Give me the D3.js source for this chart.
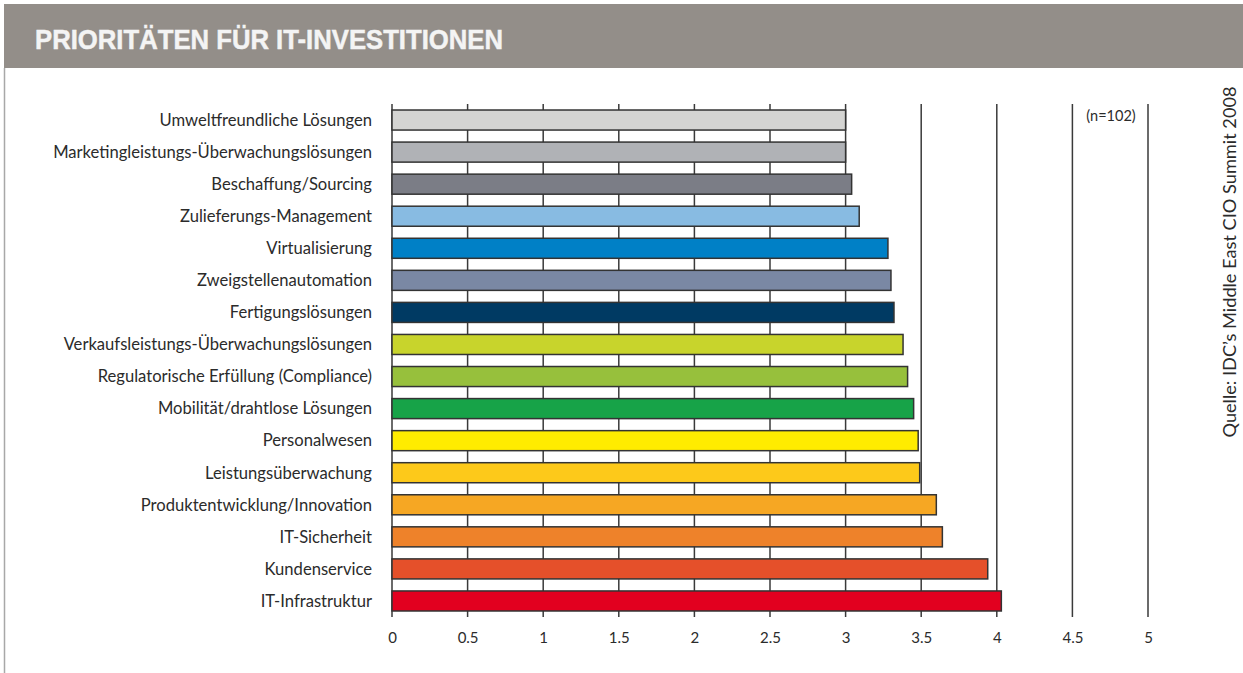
<!DOCTYPE html>
<html>
<head>
<meta charset="utf-8">
<script src="https://cdn.jsdelivr.net/npm/d3@7"></script>
<style>
html,body{margin:0;padding:0;background:#fff;}
svg{display:block;}
</style>
</head>
<body>
<svg id="chart" width="1243" height="673"></svg>
<script>
const categories = [
  "Umweltfreundliche Lösungen",
  "Marketingleistungs-Überwachungslösungen",
  "Beschaffung/Sourcing",
  "Zulieferungs-Management",
  "Virtualisierung",
  "Zweigstellenautomation",
  "Fertigungslösungen",
  "Verkaufsleistungs-Überwachungslösungen",
  "Regulatorische Erfüllung (Compliance)",
  "Mobilität/drahtlose Lösungen",
  "Personalwesen",
  "Leistungsüberwachung",
  "Produktentwicklung/Innovation",
  "IT-Sicherheit",
  "Kundenservice",
  "IT-Infrastruktur"
];
const values = [3.0, 3.0, 3.04, 3.09, 3.28, 3.30, 3.32, 3.38, 3.41, 3.45, 3.48, 3.49, 3.60, 3.64, 3.94, 4.03];
const barColors = ["#d4d4d2","#b0b2b6","#7b7d86","#88bbe2","#0080c6","#7a88a4","#003a63","#c8d42c",
                   "#97c03c","#17a348","#ffec00","#fdc91a","#f6a723","#ee822a","#e5502a","#e2001f"];
const tickValues = [0,0.5,1,1.5,2,2.5,3,3.5,4,4.5,5];
const tickLabels = ["0","0.5","1","1.5","2","2.5","3","3.5","4","4.5","5"];
const titleText = "PRIORITÄTEN FÜR IT-INVESTITIONEN";
const sampleNote = "(n=102)";
const sourceText = "Quelle: IDC’s Middle East CIO Summit 2008";

const svg = d3.select("#chart");

// header band
svg.append("rect").attr("x",4).attr("y",4).attr("width",1239).attr("height",64).attr("fill","#938e89");
svg.append("text").attr("x",35).attr("y",48.5)
  .attr("font-family","'Liberation Sans Narrow','Arial Narrow','Liberation Sans',sans-serif")
  .attr("font-weight","bold").attr("font-size",28).attr("fill","#f4f4f4")
  .attr("stroke","#f4f4f4").attr("stroke-width",0.5)
  .attr("textLength",468).attr("lengthAdjust","spacingAndGlyphs")
  .text(titleText);
// left frame line
svg.append("line").attr("x1",4.5).attr("x2",4.5).attr("y1",68).attr("y2",673)
  .attr("stroke","#a8a8a8").attr("stroke-width",1.5);

const x = d3.scaleLinear().domain([0,5]).range([392,1148]);
const y = d3.scaleBand().domain(categories).range([104,617]).paddingInner(0.375).paddingOuter(0.1875);

// gridlines
svg.append("g").selectAll("line").data(tickValues).join("line")
  .attr("x1",d=>x(d)).attr("x2",d=>x(d)).attr("y1",104).attr("y2",617)
  .attr("stroke","#3a3a3a").attr("stroke-width",1.5);

// bars
svg.append("g").selectAll("rect").data(categories).join("rect")
  .attr("x",x(0)).attr("y",d=>y(d))
  .attr("width",(d,i)=>x(values[i])-x(0))
  .attr("height",y.bandwidth())
  .attr("fill",(d,i)=>barColors[i])
  .attr("stroke","#333").attr("stroke-width",1.5);

// category labels
svg.append("g").selectAll("text").data(categories).join("text")
  .attr("x",372).attr("y",d=>y(d)+y.bandwidth()/2)
  .attr("dy","0.35em").attr("text-anchor","end")
  .attr("font-family","Lato,sans-serif").attr("font-size",16.6)
  .attr("fill","#2b2b2b").text(d=>d);

// x axis labels
const axis = d3.axisBottom(x).tickValues(tickValues).tickFormat((d,i)=>tickLabels[i]).tickSize(0).tickPadding(0);
const ag = svg.append("g").attr("transform","translate(0,632)").call(axis);
ag.select(".domain").remove();
ag.selectAll("text").attr("font-family","Lato,sans-serif").attr("font-size",15).attr("fill","#2b2b2b");

// sample note
svg.append("text").attr("x",1111).attr("y",121).attr("text-anchor","middle")
  .attr("font-family","Lato,sans-serif").attr("font-size",14.5).attr("fill","#2b2b2b")
  .text(sampleNote);

// source (rotated)
svg.append("text").attr("transform","translate(1236,262) rotate(-90)")
  .attr("text-anchor","middle")
  .attr("font-family","Lato,sans-serif").attr("font-size",18.2).attr("fill","#2b2b2b")
  .text(sourceText);
</script>
</body>
</html>
